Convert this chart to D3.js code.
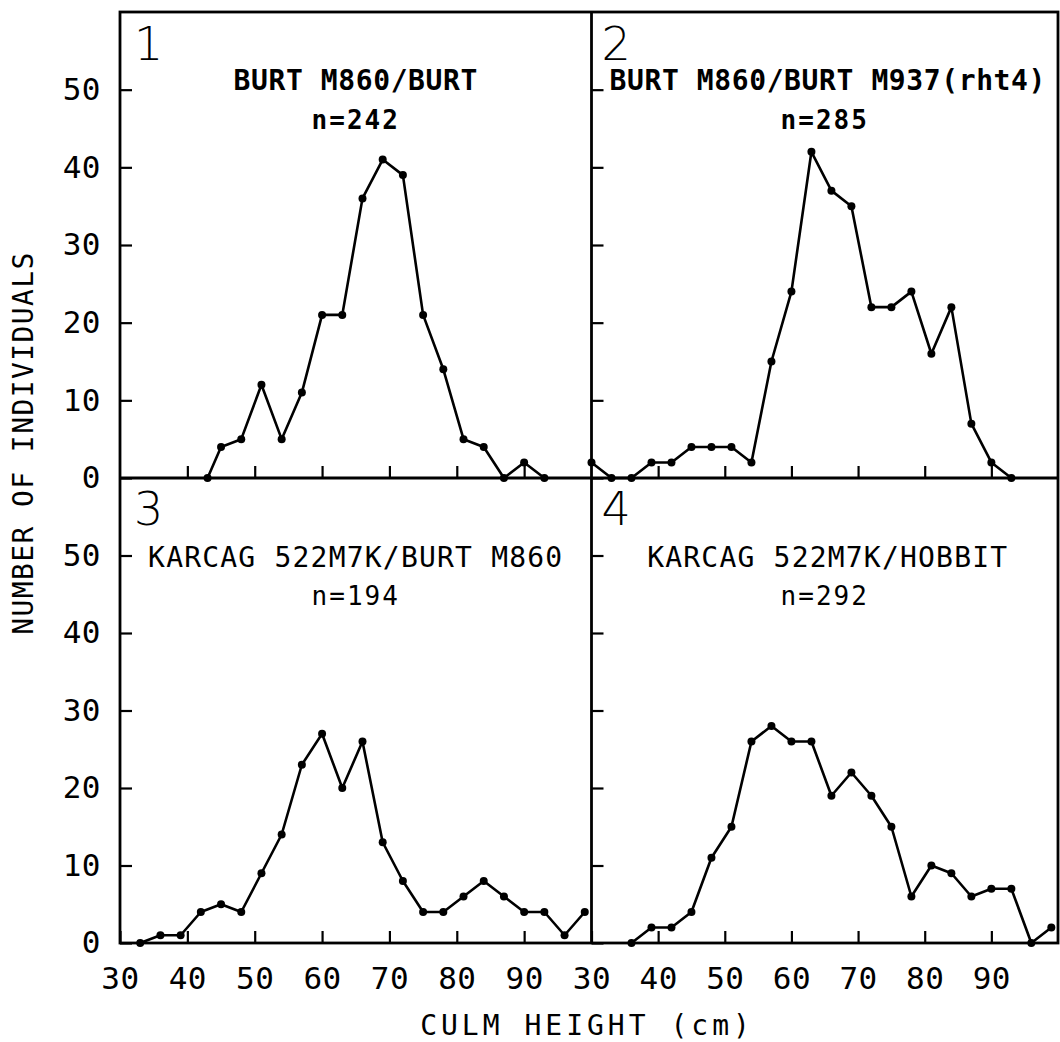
<!DOCTYPE html>
<html>
<head>
<meta charset="utf-8">
<script src="https://cdn.jsdelivr.net/npm/d3@7"></script>
<style>
  html, body { margin: 0; padding: 0; background: #fff; }
  svg { display: block; }
  .tick text { font-family: "DejaVu Sans Mono", monospace; font-size: 31px; letter-spacing: 0.5px; fill: #000; }
  .tick line { stroke: #000; stroke-width: 2.2px; }
</style>
</head>
<body>
<svg id="chart" width="1060" height="1042"></svg>
<script>
// Culm height classes (cm) and number of individuals per class, one pair of arrays per cross
const heights1 = [43, 45, 48, 51, 54, 57, 60, 63, 66, 69, 72, 75, 78, 81, 84, 87, 90, 93];
const counts1  = [0, 4, 5, 12, 5, 11, 21, 21, 36, 41, 39, 21, 14, 5, 4, 0, 2, 0];

const heights2 = [30, 33, 36, 39, 42, 45, 48, 51, 54, 57, 60, 63, 66, 69, 72, 75, 78, 81, 84, 87, 90, 93];
const counts2  = [2, 0, 0, 2, 2, 4, 4, 4, 2, 15, 24, 42, 37, 35, 22, 22, 24, 16, 22, 7, 2, 0];

const heights3 = [33, 36, 39, 42, 45, 48, 51, 54, 57, 60, 63, 66, 69, 72, 75, 78, 81, 84, 87, 90, 93, 96, 99];
const counts3  = [0, 1, 1, 4, 5, 4, 9, 14, 23, 27, 20, 26, 13, 8, 4, 4, 6, 8, 6, 4, 4, 1, 4];

const heights4 = [36, 39, 42, 45, 48, 51, 54, 57, 60, 63, 66, 69, 72, 75, 78, 81, 84, 87, 90, 93, 96, 99];
const counts4  = [0, 2, 2, 4, 11, 15, 26, 28, 26, 26, 19, 22, 19, 15, 6, 10, 9, 6, 7, 7, 0, 2];

const panelNumbers = ["1", "2", "3", "4"];
const crossNames = [
  "BURT M860/BURT",
  "BURT M860/BURT M937(rht4)",
  "KARCAG 522M7K/BURT M860",
  "KARCAG 522M7K/HOBBIT"
];
const sampleSizes = ["n=242", "n=285", "n=194", "n=292"];

const yTickValues = [0, 10, 20, 30, 40, 50];
const xTickLabels = [30, 40, 50, 60, 70, 80, 90];
const xTickMarks  = [40, 50, 60, 70, 80, 90];

const yAxisTitle = "NUMBER OF INDIVIDUALS";
const xAxisTitle = "CULM HEIGHT (cm)";

// ---- layout ----
const frameLeft = 120, frameMid = 591.5, frameRight = 1058;
const frameTop = 12, frameHMid = 478, frameBottom = 943;

const svg = d3.select("#chart");

const panels = [
  { xs: heights1, ys: counts1, col: 0, row: 0 },
  { xs: heights2, ys: counts2, col: 1, row: 0 },
  { xs: heights3, ys: counts3, col: 0, row: 1 },
  { xs: heights4, ys: counts4, col: 1, row: 1 }
];

const colRange = [[frameLeft, frameMid], [frameMid, frameRight]];
const rowRange = [[frameHMid, frameTop], [frameBottom, frameHMid]];

const line = d3.line();

panels.forEach((p, i) => {
  const x = d3.scaleLinear().domain([30, 100]).range(colRange[p.col]);
  const y = d3.scaleLinear().domain([0, 60]).range(rowRange[p.row]);
  const g = svg.append("g");
  const x0 = colRange[p.col][0];
  const y0 = rowRange[p.row][0];

  // y axis: inward ticks; labels only on the left column
  const yAxis = d3.axisLeft(y)
    .tickValues(yTickValues)
    .tickSizeInner(-12).tickSizeOuter(0).tickPadding(19)
    .tickFormat(p.col === 0 ? d3.format("d") : () => "");
  const ya = g.append("g").attr("transform", `translate(${x0},0)`).call(yAxis);
  ya.select(".domain").remove();

  // x axis: upward ticks; labels only on the bottom row
  const xAxis = d3.axisBottom(x)
    .tickValues(p.row === 1 ? xTickLabels : xTickMarks)
    .tickSizeInner(-12).tickSizeOuter(0).tickPadding(24)
    .tickFormat(p.row === 1 ? d3.format("d") : () => "");
  const xa = g.append("g").attr("transform", `translate(0,${y0})`).call(xAxis);
  xa.select(".domain").remove();
  xa.selectAll(".tick text").attr("dy", "0.71em");

  // distribution line and points
  const pts = p.xs.map((h, k) => [x(h), y(p.ys[k])]);
  g.append("path")
    .attr("d", line(pts))
    .attr("fill", "none")
    .attr("stroke", "#000")
    .attr("stroke-width", 2.6)
    .attr("stroke-linejoin", "round");
  g.selectAll("circle").data(pts).join("circle")
    .attr("cx", d => d[0]).attr("cy", d => d[1]).attr("r", 4)
    .attr("fill", "#000");

  // panel number, cross name and sample size
  const cx = (colRange[p.col][0] + colRange[p.col][1]) / 2;
  const yTopPx = rowRange[p.row][1];
  g.append("text")
    .attr("x", x0 + (p.col === 0 ? 14 : 10))
    .attr("y", yTopPx + (p.row === 0 ? 48 : 47))
    .attr("font-family", "'DejaVu Sans', sans-serif")
    .attr("font-weight", 200)
    .attr("font-size", 46)
    .text(panelNumbers[i]);
  g.append("text")
    .attr("x", cx + (p.col === 1 ? 3 : 0))
    .attr("y", yTopPx + (p.row === 0 ? 78 : 89))
    .attr("text-anchor", "middle")
    .attr("font-family", "'DejaVu Sans Mono', monospace")
    .attr("font-weight", p.row === 0 ? "bold" : "normal")
    .attr("font-size", 28)
    .attr("letter-spacing", p.row === 0 ? 0.6 : 1.2)
    .text(crossNames[i]);
  g.append("text")
    .attr("x", cx)
    .attr("y", yTopPx + (p.row === 0 ? 117 : 127))
    .attr("text-anchor", "middle")
    .attr("font-family", "'DejaVu Sans Mono', monospace")
    .attr("font-weight", p.row === 0 ? "bold" : "normal")
    .attr("font-size", 26)
    .attr("letter-spacing", 2)
    .text(sampleSizes[i]);
});

// frame and panel dividers
svg.append("rect")
  .attr("x", frameLeft).attr("y", frameTop)
  .attr("width", frameRight - frameLeft).attr("height", frameBottom - frameTop)
  .attr("fill", "none").attr("stroke", "#000").attr("stroke-width", 2.8);
svg.append("line")
  .attr("x1", frameMid).attr("x2", frameMid).attr("y1", frameTop).attr("y2", frameBottom)
  .attr("stroke", "#000").attr("stroke-width", 2.8);
svg.append("line")
  .attr("x1", frameLeft).attr("x2", frameRight).attr("y1", frameHMid).attr("y2", frameHMid)
  .attr("stroke", "#000").attr("stroke-width", 2.8);

// axis titles
svg.append("text")
  .attr("transform", "translate(33,443) rotate(-90)")
  .attr("text-anchor", "middle")
  .attr("font-family", "'DejaVu Sans Mono', monospace")
  .attr("font-size", 28)
  .attr("letter-spacing", 1.4)
  .text(yAxisTitle);
svg.append("text")
  .attr("x", 587).attr("y", 1035)
  .attr("text-anchor", "middle")
  .attr("font-family", "'DejaVu Sans Mono', monospace")
  .attr("font-size", 28)
  .attr("letter-spacing", 4)
  .text(xAxisTitle);
</script>
</body>
</html>
